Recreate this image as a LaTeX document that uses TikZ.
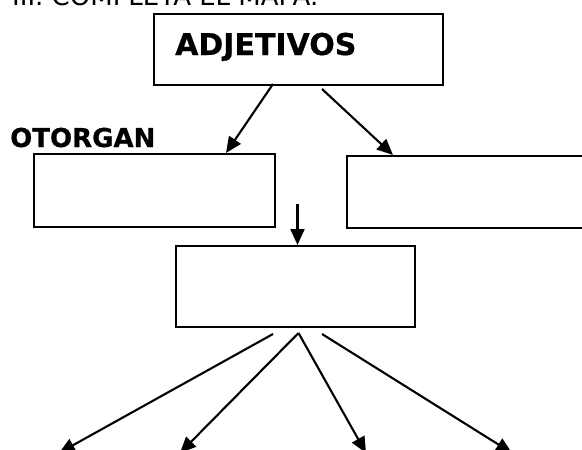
\documentclass[tikz,border=0pt]{standalone}
\usepackage{fontspec}
\setmainfont{DejaVu Sans}
\newfontfamily\heavyfont{DejaVu Sans Bold}[FakeBold=0.6]
\usetikzlibrary{arrows.meta,calc}
\begin{document}
\begin{tikzpicture}[x=1pt,y=-1pt,
  box/.style={draw,line width=2pt,inner sep=0pt},
  arr/.style={line width=2.1pt,-{Triangle[length=16pt,width=14pt]}},
  lbl/.style={anchor=base west,inner sep=0pt}]
\clip (0,0) rectangle (582,450);
\fill[white] (0,0) rectangle (582,450);
% boxes
\node[box,minimum width=289pt,minimum height=71pt] (adj) at (298.5,49.5) {};
\node[box,minimum width=241pt,minimum height=73pt] (b1) at (154.5,190.5) {};
\node[box,minimum width=260pt,minimum height=72pt,anchor=north west] (b2) at (346,155) {};
\node[box,minimum width=239pt,minimum height=81pt] (b3) at (295.5,286.5) {};
% texts
\node[lbl,font=\fontsize{26}{30}\selectfont] (title) at (12,5) {III. COMPLETA EL MAPA.};
\node[lbl,font=\heavyfont\fontsize{30}{36}\selectfont] (t1) at (175,55) {ADJETIVOS};
\node[lbl,font=\heavyfont\fontsize{26}{30}\selectfont] (t2) at (10,147) {OTORGAN};
% connector start/end points
\coordinate (s1) at (273,84);
\coordinate (s2) at (322,89);
\coordinate (s3) at (297.5,204);
\coordinate (sa) at (273,334);
\coordinate (sb) at (298.5,333);
\coordinate (sd) at (322,334);
\coordinate (ea) at (59,453);
\coordinate (eb) at (180,453);
\coordinate (ec) at (366,453);
\coordinate (ed) at (512,453);
% connectors
\draw[arr] (s1) -- ($(b1.north west)+(193,0)$);
\draw[arr] (s2) -- ($(b2.north west)+(47,0)$);
\draw[arr] (s3) -- (s3 |- b3.north);
\draw[arr] (sa) -- (ea);
\draw[arr] (sb) -- (eb);
\draw[arr] (sb) -- (ec);
\draw[arr] (sd) -- (ed);
\end{tikzpicture}
\end{document}
